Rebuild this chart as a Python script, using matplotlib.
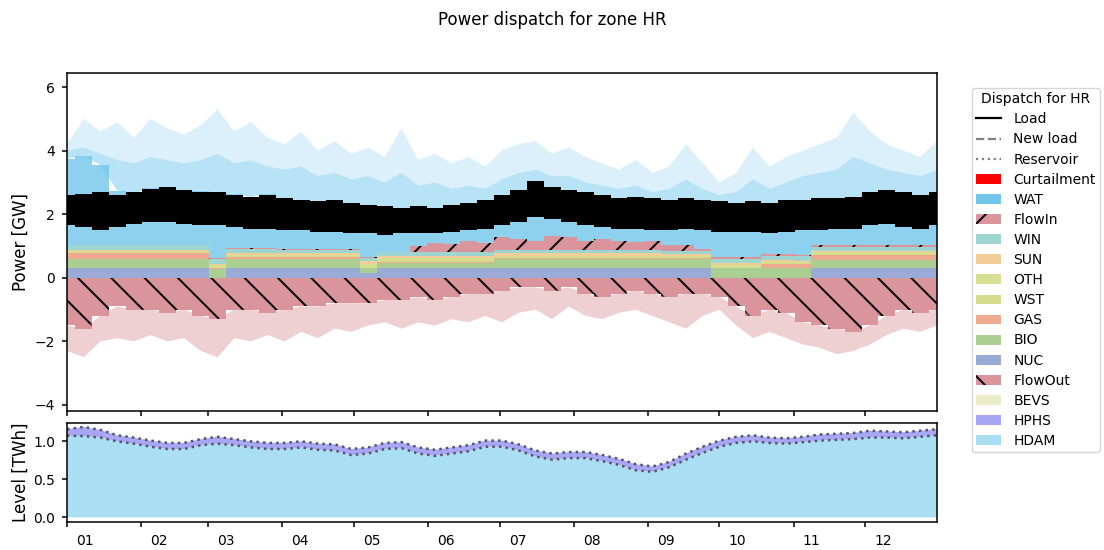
import numpy as np
import pandas as pd
import matplotlib
matplotlib.use("Agg")
import matplotlib.pyplot as plt
import matplotlib.dates as mdates
from matplotlib.patches import Patch
from matplotlib.lines import Line2D
from matplotlib.transforms import ScaledTranslation

# weekly samples over the year (GW for dispatch, TWh for storage levels)
dates = pd.date_range("2015-01-01", "2015-12-31", periods=53)

load_hi = [2.60, 2.65, 2.70, 2.60, 2.70, 2.80, 2.85, 2.75, 2.70, 2.70,
           2.60, 2.55, 2.60, 2.50, 2.45, 2.40, 2.45, 2.35, 2.30, 2.25,
           2.20, 2.25, 2.20, 2.30, 2.35, 2.45, 2.60, 2.75, 3.05, 2.85,
           2.75, 2.70, 2.60, 2.50, 2.55, 2.50, 2.45, 2.50, 2.45, 2.40,
           2.35, 2.40, 2.35, 2.45, 2.45, 2.50, 2.50, 2.55, 2.70, 2.75,
           2.70, 2.60, 2.70]
load_lo = [1.65, 1.60, 1.50, 1.60, 1.70, 1.75, 1.75, 1.70, 1.65, 1.65,
           1.60, 1.55, 1.55, 1.50, 1.50, 1.45, 1.45, 1.40, 1.40, 1.35,
           1.40, 1.40, 1.40, 1.45, 1.50, 1.55, 1.65, 1.75, 1.90, 1.85,
           1.75, 1.65, 1.60, 1.55, 1.55, 1.50, 1.50, 1.55, 1.50, 1.45,
           1.45, 1.45, 1.40, 1.45, 1.50, 1.50, 1.55, 1.55, 1.65, 1.70,
           1.60, 1.55, 1.65]

nuc = [0.32, 0.32, 0.32, 0.32, 0.32, 0.32, 0.32, 0.32, 0.32, 0.00,
       0.32, 0.32, 0.32, 0.32, 0.32, 0.32, 0.32, 0.32, 0.15, 0.32,
       0.32, 0.32, 0.32, 0.32, 0.32, 0.32, 0.32, 0.32, 0.32, 0.32,
       0.32, 0.32, 0.32, 0.32, 0.32, 0.32, 0.32, 0.32, 0.32, 0.00,
       0.00, 0.00, 0.00, 0.00, 0.00, 0.32, 0.32, 0.32, 0.32, 0.32,
       0.32, 0.32, 0.32]
bio = [0.27, 0.27, 0.27, 0.27, 0.27, 0.27, 0.27, 0.27, 0.27, 0.27,
       0.27, 0.27, 0.27, 0.27, 0.27, 0.27, 0.27, 0.27, 0.15, 0.15,
       0.15, 0.15, 0.15, 0.15, 0.15, 0.15, 0.27, 0.27, 0.27, 0.27,
       0.27, 0.27, 0.27, 0.27, 0.27, 0.27, 0.27, 0.27, 0.27, 0.30,
       0.30, 0.30, 0.30, 0.30, 0.30, 0.25, 0.25, 0.25, 0.25, 0.25,
       0.25, 0.25, 0.25]
gas = [0.18, 0.18, 0.18, 0.18, 0.18, 0.18, 0.18, 0.18, 0.18, 0.05,
       0.06, 0.06, 0.06, 0.06, 0.06, 0.06, 0.06, 0.06, 0.02, 0.02,
       0.02, 0.02, 0.02, 0.02, 0.02, 0.02, 0.02, 0.02, 0.02, 0.02,
       0.02, 0.02, 0.02, 0.02, 0.02, 0.02, 0.02, 0.02, 0.02, 0.02,
       0.02, 0.02, 0.12, 0.12, 0.12, 0.16, 0.16, 0.16, 0.16, 0.16,
       0.16, 0.16, 0.16]
wst = [0.03, 0.03, 0.03, 0.03, 0.03, 0.03, 0.03, 0.03, 0.03, 0.03,
       0.03, 0.03, 0.03, 0.03, 0.03, 0.03, 0.03, 0.03, 0.08, 0.08,
       0.08, 0.08, 0.08, 0.08, 0.08, 0.08, 0.03, 0.03, 0.03, 0.03,
       0.03, 0.03, 0.03, 0.03, 0.03, 0.03, 0.03, 0.03, 0.03, 0.03,
       0.03, 0.03, 0.03, 0.03, 0.03, 0.03, 0.03, 0.03, 0.03, 0.03,
       0.03, 0.03, 0.03]
oth = [0.04, 0.04, 0.04, 0.04, 0.04, 0.04, 0.04, 0.04, 0.04, 0.04,
       0.04, 0.04, 0.04, 0.04, 0.04, 0.04, 0.04, 0.04, 0.04, 0.04,
       0.04, 0.04, 0.04, 0.04, 0.04, 0.04, 0.04, 0.04, 0.04, 0.04,
       0.04, 0.04, 0.04, 0.04, 0.04, 0.04, 0.04, 0.04, 0.04, 0.04,
       0.04, 0.04, 0.04, 0.04, 0.04, 0.04, 0.04, 0.04, 0.04, 0.04,
       0.04, 0.04, 0.04]
sun = [0.03, 0.03, 0.03, 0.03, 0.03, 0.03, 0.03, 0.03, 0.03, 0.05,
       0.05, 0.05, 0.05, 0.05, 0.05, 0.05, 0.05, 0.05, 0.09, 0.09,
       0.09, 0.09, 0.09, 0.09, 0.09, 0.09, 0.09, 0.09, 0.09, 0.09,
       0.09, 0.09, 0.09, 0.09, 0.09, 0.09, 0.06, 0.06, 0.06, 0.06,
       0.06, 0.06, 0.06, 0.06, 0.03, 0.03, 0.03, 0.03, 0.03, 0.03,
       0.03, 0.03, 0.03]
win = [0.15, 0.15, 0.15, 0.15, 0.15, 0.15, 0.15, 0.15, 0.15, 0.15,
       0.15, 0.15, 0.15, 0.10, 0.10, 0.10, 0.10, 0.10, 0.10, 0.10,
       0.10, 0.10, 0.10, 0.10, 0.10, 0.10, 0.10, 0.10, 0.10, 0.10,
       0.10, 0.10, 0.10, 0.10, 0.10, 0.10, 0.10, 0.10, 0.10, 0.15,
       0.15, 0.15, 0.15, 0.15, 0.15, 0.15, 0.15, 0.15, 0.15, 0.15,
       0.15, 0.15, 0.15]
flow_in = [0.02, 0.02, 0.02, 0.02, 0.02, 0.02, 0.02, 0.02, 0.02, 0.02,
           0.02, 0.02, 0.02, 0.02, 0.02, 0.02, 0.02, 0.02, 0.02, 0.02,
           0.02, 0.20, 0.30, 0.25, 0.35, 0.30, 0.40, 0.35, 0.30, 0.45,
           0.40, 0.30, 0.35, 0.30, 0.25, 0.30, 0.20, 0.20, 0.05, 0.05,
           0.05, 0.05, 0.05, 0.05, 0.05, 0.05, 0.05, 0.05, 0.05, 0.05,
           0.05, 0.05, 0.05]
wat = [2.70, 2.80, 2.50, 1.70, 1.60, 1.80, 1.70, 1.60, 1.70, 2.00,
       1.70, 1.60, 1.70, 1.50, 1.50, 1.40, 1.50, 1.40, 1.55, 1.30,
       1.30, 0.90, 0.90, 0.85, 0.90, 0.90, 1.10, 1.10, 1.20, 1.10,
       1.00, 1.00, 0.85, 0.80, 0.85, 0.80, 0.85, 0.90, 1.00, 1.35,
       1.35, 1.30, 1.25, 1.25, 1.40, 1.40, 1.45, 1.50, 1.45, 1.60,
       1.60, 1.55, 1.60]
# typical daily hydro highs and the highest hourly peak of each week
wat_high = [4.0, 4.1, 3.9, 3.7, 3.6, 3.8, 3.7, 3.6, 3.7, 3.9,
            3.6, 3.7, 3.5, 3.4, 3.5, 3.2, 3.3, 3.1, 3.2, 3.0,
            3.3, 2.9, 3.0, 2.8, 2.9, 2.8, 3.1, 3.3, 3.4, 3.2,
            3.2, 3.0, 2.9, 2.8, 2.9, 2.7, 2.8, 3.1, 2.8, 2.6,
            2.7, 3.1, 2.8, 3.0, 3.2, 3.3, 3.4, 3.8, 3.6, 3.4,
            3.3, 3.2, 3.4]
wat_peak = [4.2, 5.0, 4.6, 4.9, 4.4, 5.0, 4.7, 4.5, 4.8, 5.3,
            4.6, 4.9, 4.4, 4.2, 4.6, 4.0, 4.3, 3.9, 4.1, 3.8,
            4.7, 3.7, 3.9, 3.6, 3.8, 3.5, 4.0, 4.2, 4.3, 3.9,
            4.1, 3.8, 3.6, 3.4, 3.7, 3.3, 3.5, 4.2, 3.6, 3.0,
            3.3, 4.1, 3.5, 3.8, 4.0, 4.2, 4.4, 5.2, 4.6, 4.2,
            4.0, 3.8, 4.3]

flow_out = [1.5, 1.6, 1.2, 0.9, 1.0, 1.0, 1.1, 1.0, 1.2, 1.3,
            1.0, 1.0, 1.1, 1.0, 0.9, 0.9, 0.8, 0.8, 0.8, 0.7,
            0.7, 0.6, 0.7, 0.6, 0.5, 0.5, 0.4, 0.3, 0.3, 0.4,
            0.3, 0.5, 0.6, 0.5, 0.4, 0.5, 0.6, 0.5, 0.5, 0.6,
            0.9, 1.2, 1.0, 1.1, 1.4, 1.5, 1.6, 1.7, 1.5, 1.2,
            1.0, 1.1, 1.0]
flow_out_peak = [2.3, 2.5, 2.0, 1.9, 2.0, 1.8, 2.0, 1.9, 2.3, 2.5,
                 1.9, 2.0, 1.8, 2.0, 1.7, 1.9, 1.6, 1.7, 1.5, 1.4,
                 1.6, 1.4, 1.5, 1.3, 1.4, 1.2, 1.4, 1.1, 1.0, 1.3,
                 0.9, 1.2, 1.3, 1.1, 1.0, 1.2, 1.4, 1.6, 1.2, 1.0,
                 1.5, 1.9, 1.7, 1.9, 2.1, 2.2, 2.4, 2.3, 2.1, 1.8,
                 1.6, 1.7, 1.5]

hdam = [1.075, 1.07, 1.05, 1.00, 0.97, 0.93, 0.90, 0.90, 0.95, 0.97,
        0.95, 0.92, 0.90, 0.90, 0.92, 0.89, 0.88, 0.82, 0.84, 0.90,
        0.91, 0.84, 0.81, 0.84, 0.87, 0.93, 0.93, 0.88, 0.80, 0.76,
        0.78, 0.78, 0.74, 0.69, 0.62, 0.60, 0.66, 0.76, 0.85, 0.93,
        0.98, 1.00, 0.98, 0.97, 0.99, 1.01, 1.02, 1.03, 1.05, 1.05,
        1.04, 1.06, 1.08]
hphs = [0.085, 0.12, 0.10, 0.08, 0.08, 0.08, 0.08, 0.08, 0.08, 0.09,
        0.08, 0.08, 0.08, 0.08, 0.08, 0.08, 0.08, 0.08, 0.08, 0.08,
        0.08, 0.08, 0.08, 0.08, 0.08, 0.08, 0.08, 0.08, 0.08, 0.08,
        0.08, 0.08, 0.08, 0.08, 0.08, 0.07, 0.07, 0.08, 0.08, 0.08,
        0.08, 0.08, 0.07, 0.07, 0.07, 0.08, 0.08, 0.08, 0.09, 0.08,
        0.08, 0.08, 0.08]

colors = {
    "Curtailment": "#ff0000", "WAT": "#72c6ec", "FlowIn": "#da959c",
    "WIN": "#9ed5d0", "SUN": "#f1cd98", "OTH": "#d9df92", "WST": "#d3dc8a",
    "GAS": "#eeaa8e", "BIO": "#abcf93", "NUC": "#9aabd8",
    "FlowOut": "#da959c", "BEVS": "#e8edc7", "HPHS": "#a7a7f5",
    "HDAM": "#aadef2",
}

plt.rcParams.update({
    "font.size": 10,
    "axes.linewidth": 1.1,
    "xtick.major.size": 3.6, "xtick.major.width": 1.1, "xtick.major.pad": 5,
    "ytick.major.size": 3.6, "ytick.major.width": 1.1, "ytick.major.pad": 5,
    "hatch.linewidth": 1.4,
})

x = mdates.date2num(dates.to_pydatetime())

fig = plt.figure(figsize=(11.04, 5.5), dpi=100)
ax = fig.add_axes([0.0607, 0.2527, 0.788, 0.6145])
ax2 = fig.add_axes([0.0607, 0.0509, 0.788, 0.1805], sharex=ax)

# positive generation stack
stack = [("NUC", nuc, None), ("BIO", bio, None), ("GAS", gas, None),
         ("WST", wst, None), ("OTH", oth, None), ("SUN", sun, None),
         ("WIN", win, None), ("FlowIn", flow_in, "/"), ("WAT", wat, None)]
bottom = np.zeros(len(x))
for name, vals, hatch in stack:
    top = bottom + np.asarray(vals)
    ax.fill_between(x, bottom, top, step="mid", facecolor=colors[name],
                    edgecolor="k" if hatch else "none", linewidth=0, hatch=hatch,
                    alpha=0.8 if name == "WAT" else 1)
    bottom = top
high = np.maximum(wat_high, bottom)
ax.fill_between(x, bottom, high, facecolor=colors["WAT"], alpha=0.5, linewidth=0)
ax.fill_between(x, high, np.maximum(wat_peak, high), facecolor=colors["WAT"],
                alpha=0.25, linewidth=0)

# exports below zero
out = -np.asarray(flow_out)
ax.fill_between(x, out, 0, step="mid", facecolor=colors["FlowOut"],
                edgecolor="k", linewidth=0, hatch="\\")
ax.fill_between(x, -np.asarray(flow_out_peak), out, facecolor=colors["FlowOut"],
                alpha=0.45, linewidth=0)

ax.fill_between(x, load_lo, load_hi, step="mid", color="k", linewidth=0, zorder=3)

ax.set_ylim(-4.19, 6.44)
ax.set_yticks([-4, -2, 0, 2, 4, 6])
ax.set_ylabel("Power [GW]", fontsize=12)
ax.tick_params(labelbottom=False)

# reservoir levels
lvl_top = np.asarray(hdam) + np.asarray(hphs)
ax2.fill_between(x, 0, hdam, facecolor=colors["HDAM"], linewidth=0)
ax2.fill_between(x, hdam, lvl_top, facecolor=colors["HPHS"], linewidth=0)
ax2.plot(x, hdam, ls=":", color="#55556a", lw=1.8)
ax2.plot(x, lvl_top, ls=":", color="#55556a", lw=1.8)
ax2.set_ylim(-0.06, 1.245)
ax2.set_yticks([0.0, 0.5, 1.0])
ax2.set_ylabel("Level [TWh]", fontsize=12)

months = pd.date_range("2015-01-01", periods=12, freq="MS")
ax2.set_xticks(mdates.date2num(months.to_pydatetime()))
ax2.set_xticklabels(months.strftime("%m"))
ax2.set_xlim(x[0], x[-1])
shift = ScaledTranslation(0.18, 0, fig.dpi_scale_trans)
for lbl in ax2.get_xticklabels():
    lbl.set_transform(lbl.get_transform() + shift)

for a in (ax, ax2):
    a.yaxis.set_label_coords(-0.043, 0.5)

handles = [
    Line2D([], [], color="k", lw=1.6, label="Load"),
    Line2D([], [], color="grey", lw=1.6, ls="--", label="New load"),
    Line2D([], [], color="grey", lw=1.6, ls=":", label="Reservoir"),
]
for name in ["Curtailment", "WAT", "FlowIn", "WIN", "SUN", "OTH", "WST", "GAS",
             "BIO", "NUC", "FlowOut", "BEVS", "HPHS", "HDAM"]:
    hatch = {"FlowIn": "/", "FlowOut": "\\"}.get(name)
    handles.append(Patch(facecolor=colors[name], edgecolor="k" if hatch else "none",
                         linewidth=0, hatch=hatch, label=name))
fig.legend(handles=handles, title="Dispatch for HR", loc="upper left",
           bbox_to_anchor=(0.880, 0.84), fontsize=10, title_fontsize=10,
           handlelength=1.8, handletextpad=0.9, borderpad=0.3,
           labelspacing=0.44, borderaxespad=0)

fig.suptitle("Power dispatch for zone HR", y=0.964, va="center", fontsize=12)

fig.savefig("out.png", dpi=100)
